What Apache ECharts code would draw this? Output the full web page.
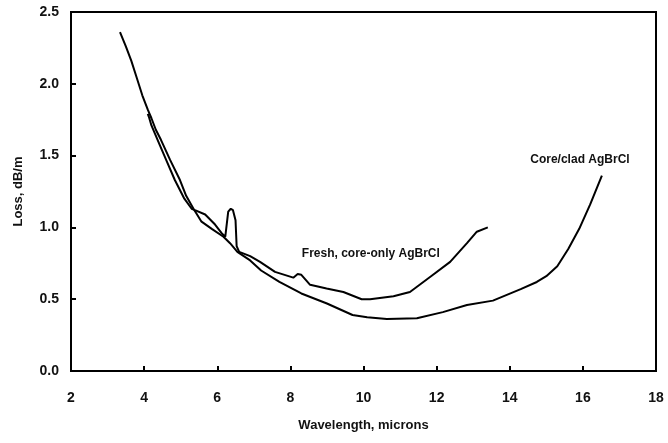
<!DOCTYPE html>
<html>
<head>
<meta charset="utf-8">
<script src="https://cdn.jsdelivr.net/npm/echarts@6/dist/echarts.min.js"></script>
<style>
  html, body { margin: 0; padding: 0; background: #fff; }
  #chart { width: 668px; height: 443px; }
</style>
</head>
<body>
<div id="chart"></div>
<script>
// core/clad AgBrCl fiber
const cladWavelength = [3.34, 3.5, 3.65, 3.8, 3.95, 4.1, 4.2, 4.32, 4.46, 4.71, 4.98, 5.15, 5.35,
  5.57, 5.85, 6.17, 6.35, 6.55, 6.9, 7.2, 7.7, 8.3, 9.0, 9.7, 10.1, 10.64, 11.46, 12.17, 12.83, 13.54,
  14.3, 14.74, 15.0, 15.3, 15.6, 15.9, 16.2, 16.52];
const cladLoss = [2.36, 2.26, 2.16, 2.04, 1.92, 1.82, 1.76, 1.68, 1.61, 1.47, 1.33, 1.22, 1.13,
  1.04, 0.99, 0.935, 0.89, 0.83, 0.77, 0.70, 0.62, 0.54, 0.47, 0.39, 0.374, 0.362, 0.367, 0.41, 0.46, 0.49,
  0.57, 0.62, 0.66, 0.73, 0.85, 0.99, 1.16, 1.36];

// fresh, core-only AgBrCl fiber
const freshWavelength = [4.10, 4.13, 4.2, 4.40, 4.62, 4.84, 5.1, 5.3, 5.39, 5.67, 5.94, 6.12, 6.22, 6.30,
  6.37, 6.43, 6.50, 6.53, 6.6, 6.9, 7.17, 7.58, 8.08, 8.2, 8.3, 8.54, 8.99, 9.45, 9.95, 10.18, 10.82,
  11.27, 11.82, 12.37, 12.83, 13.1, 13.4];
const freshLoss = [1.79, 1.77, 1.71, 1.59, 1.46, 1.33, 1.20, 1.13, 1.12, 1.09, 1.02, 0.96, 0.935, 1.11,
  1.13, 1.12, 1.05, 0.87, 0.83, 0.80, 0.76, 0.69, 0.65, 0.675, 0.67, 0.60, 0.575, 0.55, 0.50, 0.50, 0.52,
  0.55, 0.655, 0.76, 0.89, 0.97, 1.00];

const seriesNames = ['Core/clad AgBrCl', 'Fresh, core-only AgBrCl'];
const labelSpots = [[15.92, 1.47], [10.2, 0.815]];

const chart = echarts.init(document.getElementById('chart'));
const fontFamily = '"Liberation Sans", Arial, sans-serif';

function toPairs(xs, ys) {
  return xs.map((x, i) => [x, ys[i]]);
}

function makeSeries(name, xs, ys, spot) {
  return {
    name: name,
    type: 'line',
    data: toPairs(xs, ys),
    showSymbol: false,
    symbol: 'none',
    smooth: false,
    lineStyle: { color: '#000', width: 2 },
    markPoint: {
      symbol: 'circle',
      symbolSize: 0,
      silent: true,
      label: {
        show: true,
        formatter: name,
        color: '#111',
        fontFamily: fontFamily,
        fontWeight: 'bold',
        fontSize: 12
      },
      data: [{ coord: spot }]
    }
  };
}

chart.setOption({
  animation: false,
  backgroundColor: '#fff',
  grid: {
    left: 71, right: 12, top: 12, bottom: 72,
    show: true, borderColor: '#000', borderWidth: 2
  },
  xAxis: {
    type: 'value',
    min: 2, max: 18, interval: 2,
    name: 'Wavelength, microns',
    nameLocation: 'middle',
    nameGap: 48,
    nameTextStyle: { color: '#111', fontFamily: fontFamily, fontWeight: 'bold', fontSize: 13 },
    axisLine: { show: true, lineStyle: { color: '#000', width: 2 } },
    axisTick: { show: true, inside: true, length: 5, lineStyle: { color: '#000', width: 2 } },
    axisLabel: { color: '#111', fontFamily: fontFamily, fontWeight: 'bold', fontSize: 14, margin: 20 },
    splitLine: { show: false }
  },
  yAxis: {
    type: 'value',
    min: 0, max: 2.5, interval: 0.5,
    name: 'Loss, dB/m',
    nameLocation: 'middle',
    nameGap: 46,
    nameTextStyle: { color: '#111', fontFamily: fontFamily, fontWeight: 'bold', fontSize: 13 },
    axisLine: { show: true, lineStyle: { color: '#000', width: 2 } },
    axisTick: { show: true, inside: true, length: 5, lineStyle: { color: '#000', width: 2 } },
    axisLabel: {
      color: '#111', fontFamily: fontFamily, fontWeight: 'bold', fontSize: 14, margin: 12,
      formatter: v => v.toFixed(1)
    },
    splitLine: { show: false }
  },
  series: [
    makeSeries(seriesNames[0], cladWavelength, cladLoss, labelSpots[0]),
    makeSeries(seriesNames[1], freshWavelength, freshLoss, labelSpots[1])
  ]
});
</script>
</body>
</html>
